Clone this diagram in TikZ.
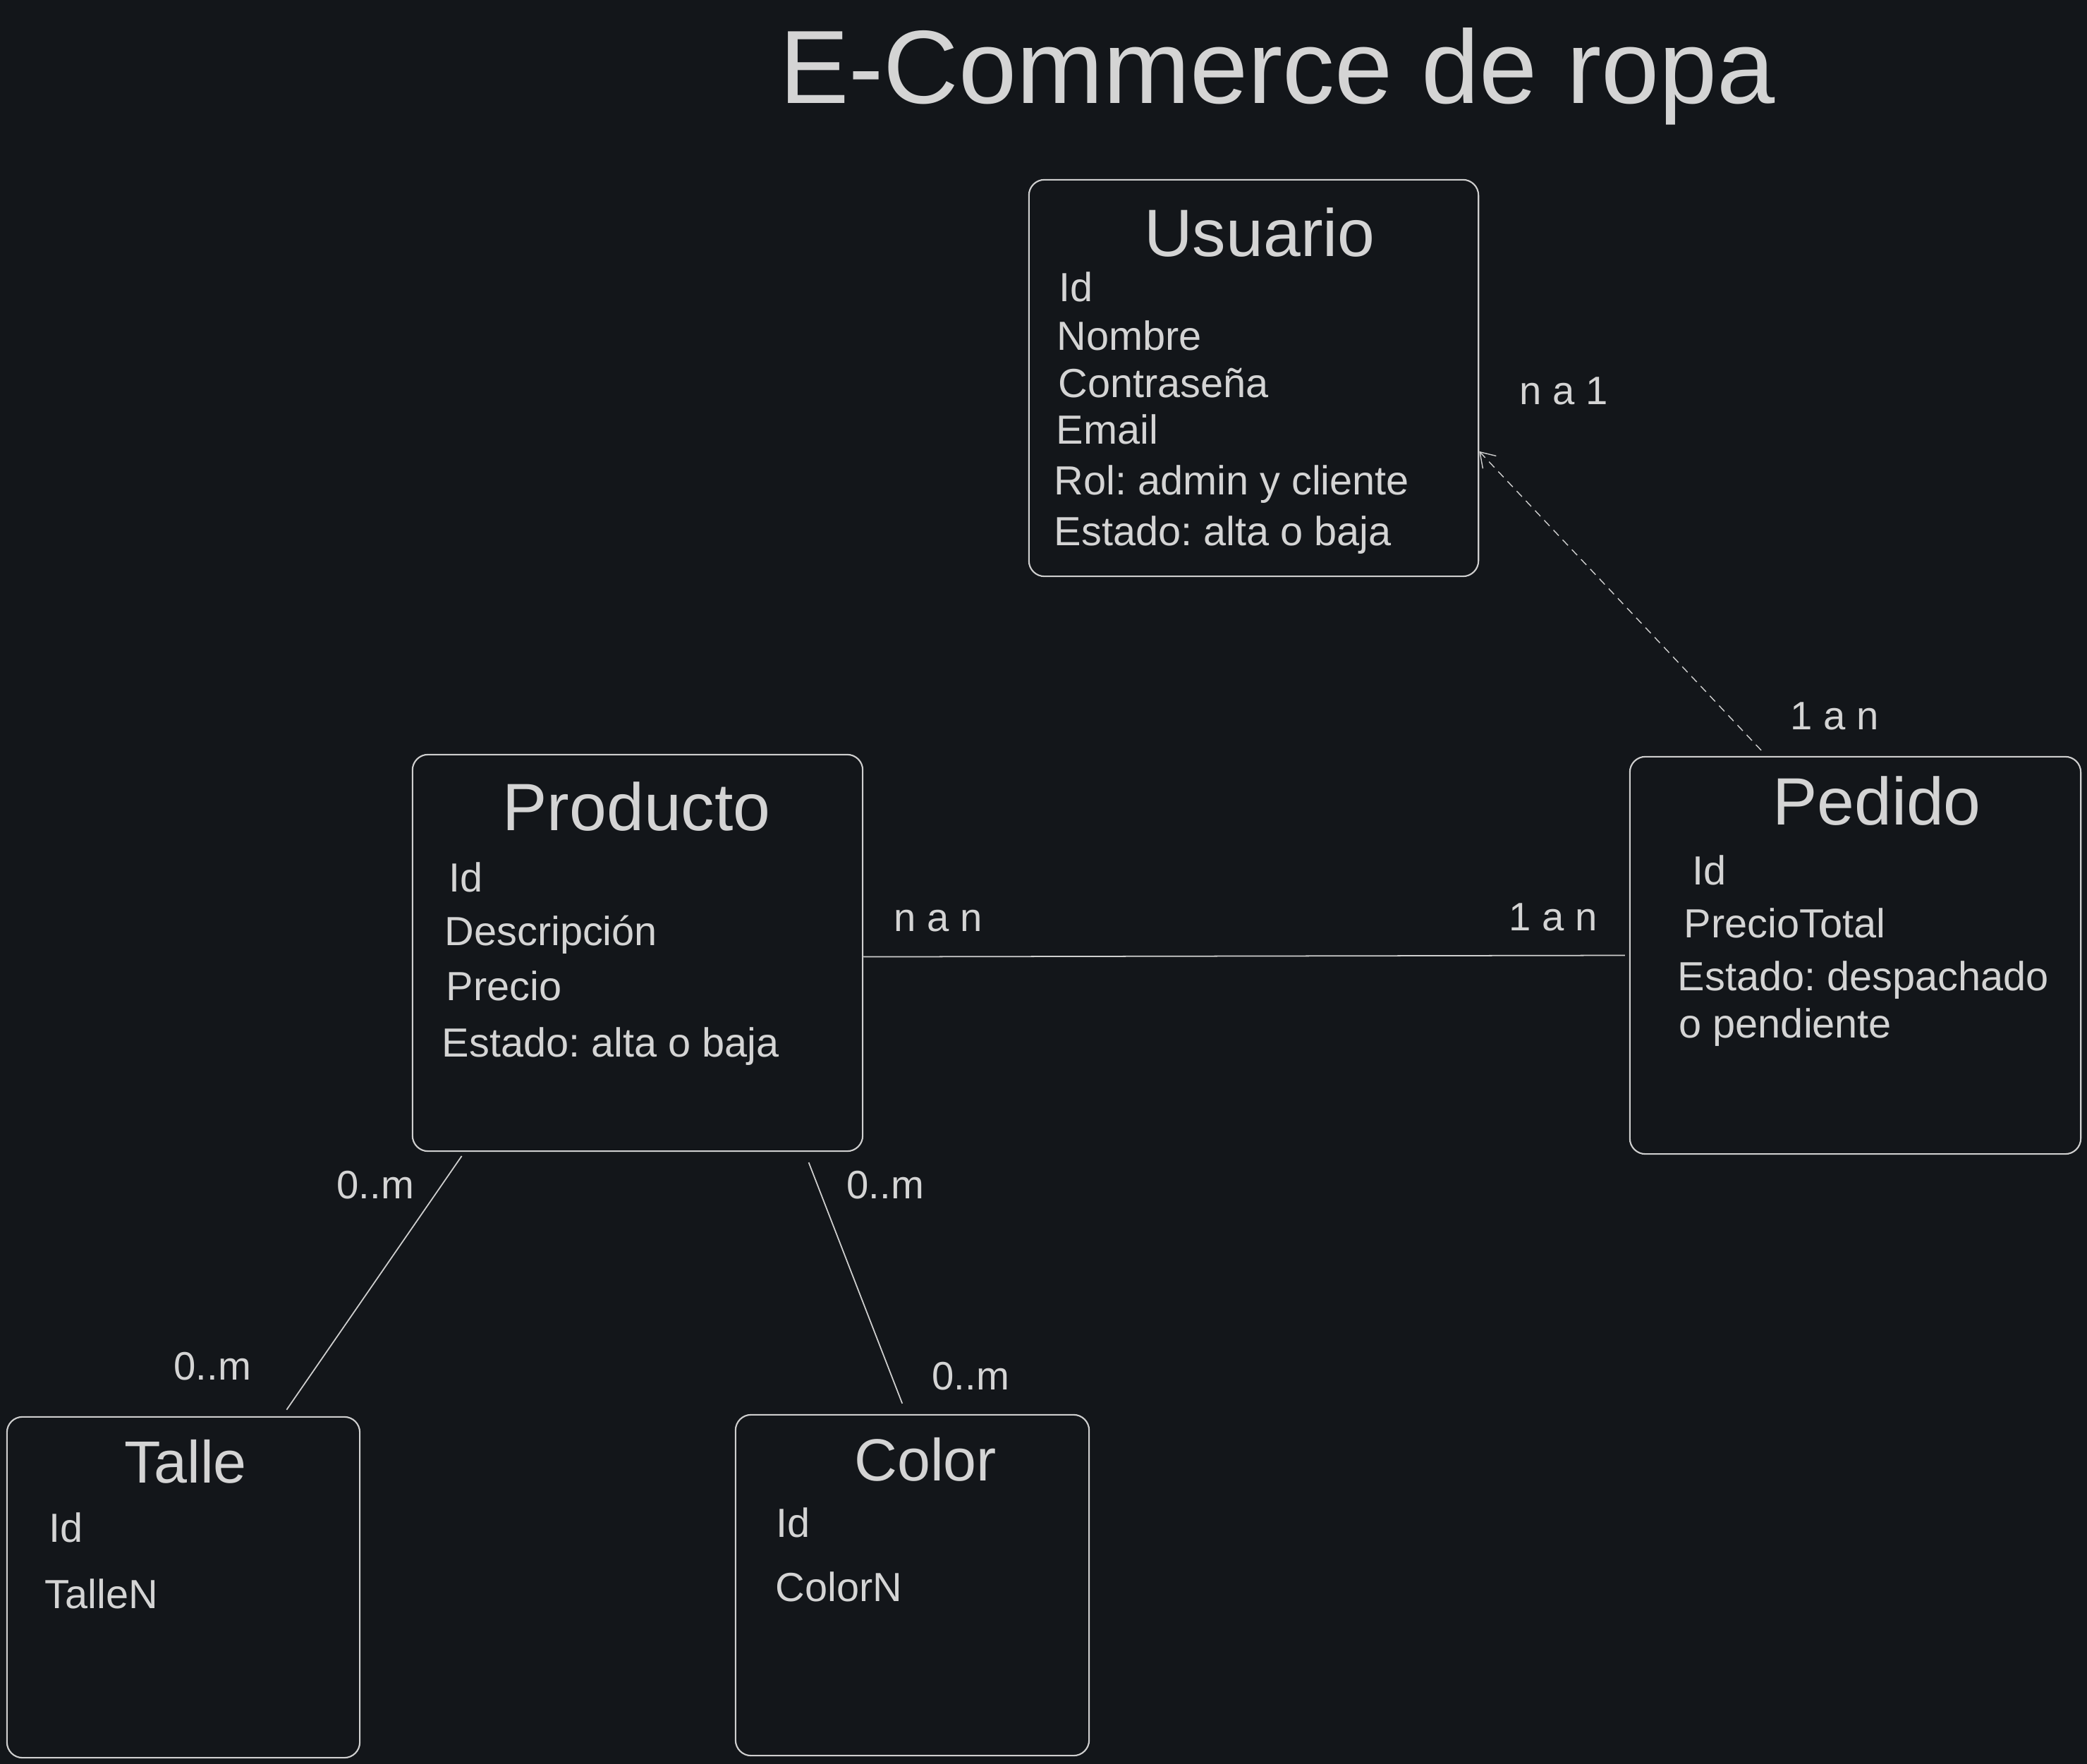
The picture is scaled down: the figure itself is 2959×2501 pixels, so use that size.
\documentclass[tikz,border=0pt]{standalone}
\usepackage{fontspec}
\setmainfont{Liberation Sans}
\usetikzlibrary{positioning}
\usetikzlibrary{arrows.meta}
\frenchspacing
\definecolor{fondo}{HTML}{13161A}
\definecolor{texto}{HTML}{D4D4D4}
\definecolor{borde}{HTML}{CFCFCF}
\tikzstyle{entity box}=[draw=borde,line width=0.6pt,rounded corners=0.22cm,inner sep=0pt]
\tikzstyle{entity title}=[text=texto,font=\fontsize{27}{32}\selectfont,anchor=base,inner sep=0pt]
\tikzstyle{small title}=[entity title,font=\fontsize{24}{29}\selectfont]
\tikzstyle{attr text}=[text=texto,font=\fontsize{16.4}{19.7}\selectfont,anchor=base west,inner sep=0pt]
\tikzstyle{rel label}=[text=texto,font=\fontsize{16}{19}\selectfont,anchor=base west,inner sep=0pt]
\tikzstyle{rel edge}=[draw=borde,line width=0.5pt]
\tikzstyle{dep edge}=[draw=borde,line width=0.4pt,dash pattern=on 0.11cm off 0.08cm,-{Straight Barb[length=0.2cm,width=0.26cm]}]
\newcommand{\entidad}[4]{
  \node [entity box,minimum width=#3,minimum height=#4] (#1) at #2 {}
}
\newcommand{\titulo}[4][entity title]{
  \node [#1] (#2) at #3 {#4}
}
\newcommand{\atributo}[3]{
  \node [attr text] (#1) at #2 {#3}
}

\begin{document}
\begin{tikzpicture}[x=0.01cm,y=-0.01cm]
        \fill[fondo] (0,0) rectangle (2959,2501);
        \useasboundingbox (0,0) rectangle (2959,2501);

        \node [text=texto,font=\fontsize{42}{50}\selectfont,anchor=base,inner sep=0pt] (encabezado) at (1811,147) {E-Commerce de ropa};

        % Usuario
        \entidad{usuario}{(1777.5,536)}{6.37cm}{5.62cm};
        \titulo{usuarioT}{(1786,364)}{Usuario};
                \atributo{u1}{(1501,428)}{Id};
                \atributo{u2}{(1498,497)}{Nombre};
                \atributo{u3}{(1500,564)}{Contraseña};
                \atributo{u4}{(1497,630)}{Email};
                \atributo{u5}{(1494,702)}{Rol: admin y cliente};
                \atributo{u6}{(1494,774)}{Estado: alta o baja};

        % Producto
        \entidad{producto}{(904,1351)}{6.38cm}{5.62cm};
        \titulo{productoT}{(902.5,1178)}{Producto};
                \atributo{pr1}{(636,1265)}{Id};
                \atributo{pr2}{(630,1341)}{Descripción};
                \atributo{pr3}{(632,1419)}{Precio};
                \atributo{pr4}{(626,1499)}{Estado: alta o baja};

        % Pedido
        \entidad{pedido}{(2630.5,1354.5)}{6.39cm}{5.63cm};
        \titulo{pedidoT}{(2661,1170)}{Pedido};
                \atributo{pe1}{(2399,1255)}{Id};
                \atributo{pe2}{(2387,1330)}{PrecioTotal};
                \atributo{pe3}{(2378,1405)}{Estado: despachado};
                \atributo{pe4}{(2380,1472)}{o pendiente};

        % Talle
        \entidad{talle}{(260,2250.5)}{5cm}{4.83cm};
        \titulo[small title]{talleT}{(263,2102)}{Talle};
                \atributo{t1}{(69,2186)}{Id};
                \atributo{t2}{(63,2280)}{TalleN};

        % Color
        \entidad{color}{(1293.5,2247.5)}{5.01cm}{4.83cm};
        \titulo[small title]{colorT}{(1312,2099)}{Color};
                \atributo{c1}{(1100,2179)}{Id};
                \atributo{c2}{(1099,2270)}{ColorN};

            \draw[dep edge,shorten <=0.11cm] (pedido.114) -- (usuario.-18.7);
            \draw[rel edge,shorten >=0.06cm] (producto.-1) -- (pedido.180);
            \draw[rel edge,shorten <=0.07cm,shorten >=0.11cm] (producto.-131) -- (talle.60);
            \draw[rel edge,shorten <=0.16cm,shorten >=0.16cm] (producto.-50) -- (color.92);

        \node [rel label] (na1) at (2154,574) {n a 1};
        \node [rel label] (uan1) at (2538,1035) {1 a n};
        \node [rel label] (nan) at (1267,1321) {n a n};
        \node [rel label] (uan2) at (2139,1320) {1 a n};
        \node [rel label] (cm1) at (477,1699) {0..m};
        \node [rel label] (cm2) at (246,1956) {0..m};
        \node [rel label] (cm3) at (1200,1700) {0..m};
        \node [rel label] (cm4) at (1321,1970) {0..m};

\end{tikzpicture}
\end{document}
